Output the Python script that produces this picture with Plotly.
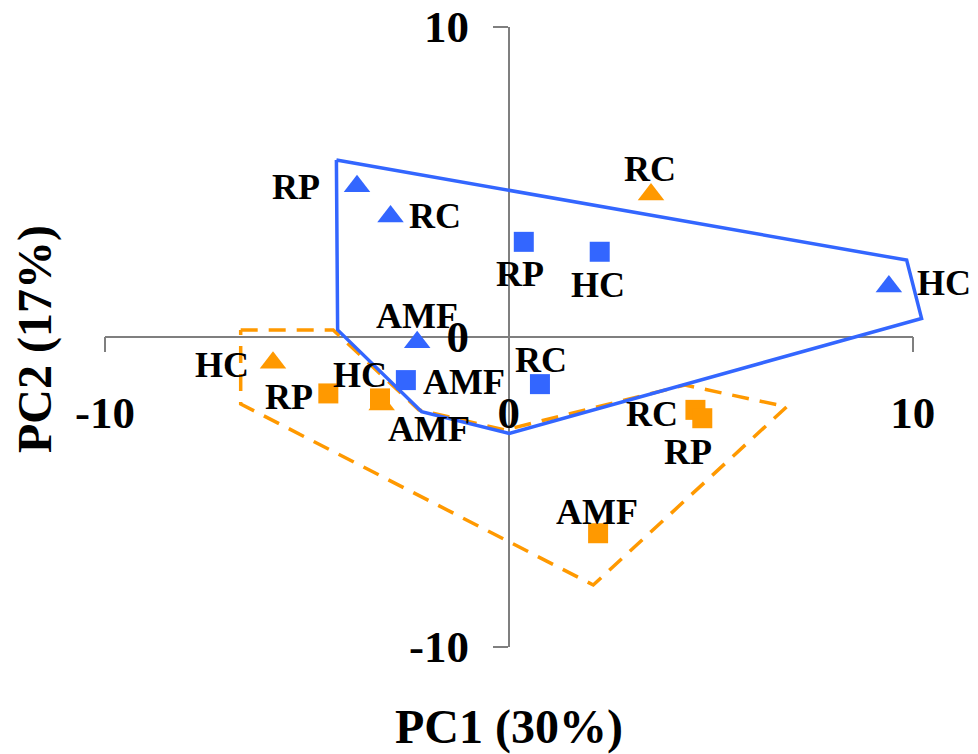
import plotly.graph_objects as go

# ---------------- data ----------------
blue_tri_labels = ["RP", "RC", "AMF", "HC"]
blue_tri_x = [-3.76, -2.93, -2.27, 9.41]
blue_tri_y = [4.85, 3.88, -0.18, 1.62]

blue_sq_labels = ["RP", "HC", "AMF", "RC"]
blue_sq_x = [0.37, 2.25, -2.55, 0.77]
blue_sq_y = [3.06, 2.74, -1.40, -1.53]

orange_tri_labels = ["RC", "HC", "AMF"]
orange_tri_x = [3.52, -5.84, -3.15]
orange_tri_y = [4.59, -0.84, -2.19]

orange_sq_labels = ["RP", "HC", "RC", "RP", "AMF"]
orange_sq_x = [-4.47, -3.19, 4.62, 4.79, 2.21]
orange_sq_y = [-1.83, -1.99, -2.36, -2.63, -6.34]

blue_hull_x = [-4.27, -4.24, -2.16, 0.01, 10.22, 9.85, -4.27]
blue_hull_y = [5.70, 0.22, -2.42, -3.12, 0.59, 2.47, 5.70]

orange_hull_x = [-6.64, -4.35, -2.23, -0.10, 4.36, 6.88, 2.09, -6.64, -6.64]
orange_hull_y = [0.22, 0.22, -2.36, -3.01, -1.56, -2.26, -8.01, -2.17, 0.22]

tick_vals = [-10, 0, 10]
tick_text = ["-10", "0", "10"]
x_title = "PC1 (30%)"
y_title = "PC2 (17%)"

# ---------------- styling / layout ----------------
BLUE = "#3366FF"
ORANGE = "#FF9900"
FONT = "Liberation Serif"

# label pixel offsets (style)
blue_tri_off = [(-61, -1), (44, 0), (0, 26), (55, 3)]
blue_sq_off = [(-4, -32), (-1.5, -33), (58, -2), (1, 24)]
orange_tri_off = [(-1, 25), (-51, -2), (47.5, -24)]
orange_sq_off = [(-39, -4), (-20, 23), (-43.5, -4.5), (-14, -34), (-1, 21)]

W, H = 978, 754
ML, MR, MT, MB = 60, 20, 10, 60
PW, PH = W - ML - MR, H - MT - MB
AX_L, AX_R, AX_T, AX_B = 105.0, 912.7, 26.7, 646.7
sx = (AX_R - AX_L) / 20.0
sy = (AX_B - AX_T) / 20.0
x_rng = [-10 - (AX_L - ML) / sx, 10 + (W - MR - AX_R) / sx]
y_rng = [-10 - (H - MB - AX_B) / sy, 10 + (AX_T - MT) / sy]
x_dom = [(AX_L - ML) / PW, (AX_R - ML) / PW]
y_dom = [(H - MB - AX_B) / PH, (H - MB - AX_T) / PH]
x0_px = (AX_L + AX_R) / 2
y0_px = (AX_T + AX_B) / 2

fig = go.Figure()

# dummy trace for display axes subplot
fig.add_trace(go.Scatter(x=[None], y=[None], mode="none", xaxis="x", yaxis="y",
                         showlegend=False, hoverinfo="skip"))

fig.add_trace(go.Scatter(x=orange_hull_x, y=orange_hull_y, mode="lines",
                         line=dict(color=ORANGE, width=3.5, dash="17px,11px"),
                         xaxis="x2", yaxis="y2", showlegend=False, hoverinfo="skip"))
fig.add_trace(go.Scatter(x=blue_hull_x, y=blue_hull_y, mode="lines",
                         line=dict(color=BLUE, width=3.5),
                         xaxis="x2", yaxis="y2", showlegend=False, hoverinfo="skip"))

series = [
    (blue_tri_x, blue_tri_y, blue_tri_labels, blue_tri_off, BLUE, "triangle-up", 23),
    (blue_sq_x, blue_sq_y, blue_sq_labels, blue_sq_off, BLUE, "square", 20),
    (orange_tri_x, orange_tri_y, orange_tri_labels, orange_tri_off, ORANGE, "triangle-up", 23),
    (orange_sq_x, orange_sq_y, orange_sq_labels, orange_sq_off, ORANGE, "square", 20),
]

annotations = []
for xs, ys, labs, offs, col, sym, sz in series:
    fig.add_trace(go.Scatter(x=xs, y=ys, mode="markers", text=labs,
                             marker=dict(color=col, symbol=sym, size=sz, line=dict(width=0)),
                             xaxis="x2", yaxis="y2", showlegend=False, cliponaxis=False))
    for xv, yv, lab, (dx, dy) in zip(xs, ys, labs, offs):
        annotations.append(dict(x=xv, y=yv, xref="x2", yref="y2", text=lab,
                                showarrow=False, xshift=dx, yshift=dy,
                                xanchor="center", yanchor="middle",
                                font=dict(family=FONT, size=36, color="black", weight="bold")))

annotations.append(dict(text=x_title, xref="paper", yref="paper",
                        x=(509 - ML) / PW, y=(H - MB - 727) / PH,
                        xanchor="center", yanchor="middle", showarrow=False,
                        font=dict(family=FONT, size=48, color="black", weight="bold")))
annotations.append(dict(text=y_title, xref="paper", yref="paper",
                        x=(35 - ML) / PW, y=(H - MB - 339) / PH, textangle=-90,
                        xanchor="center", yanchor="middle", showarrow=False,
                        font=dict(family=FONT, size=48, color="black", weight="bold")))

axis_common = dict(showgrid=False, zeroline=False, showline=True,
                   linecolor="#7f7f7f", linewidth=1.5, ticks="outside",
                   tickcolor="#7f7f7f", tickwidth=1.5, ticklen=15,
                   tickvals=tick_vals, ticktext=tick_text, range=[-10, 10],
                   tickfont=dict(family=FONT, size=45, color="black", weight="bold"),
                   fixedrange=True)

fig.update_layout(
    width=W, height=H,
    margin=dict(l=ML, r=MR, t=MT, b=MB, autoexpand=False),
    paper_bgcolor="white", plot_bgcolor="rgba(0,0,0,0)",
    xaxis=dict(**axis_common, domain=x_dom, anchor="free",
               position=(H - MB - y0_px) / PH, side="bottom", ticklabelstandoff=22),
    yaxis=dict(**axis_common, domain=y_dom, anchor="free",
               position=(x0_px - ML) / PW, side="left", ticklabelstandoff=15),
    xaxis2=dict(range=x_rng, domain=[0, 1], anchor="y2", visible=False, fixedrange=True),
    yaxis2=dict(range=y_rng, domain=[0, 1], anchor="x2", visible=False, fixedrange=True),
    annotations=annotations,
    showlegend=False,
)

fig.write_html("out.html")
